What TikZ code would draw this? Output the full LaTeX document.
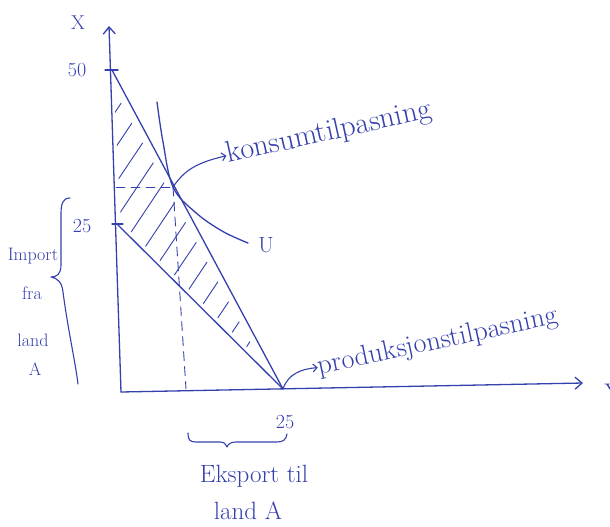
\documentclass[tikz,border=0pt]{standalone}
\usetikzlibrary{arrows.meta}
\definecolor{ink}{RGB}{52,64,172}
\begin{document}
\begin{tikzpicture}[x=1pt,y=-1pt, line width=1.3pt, line cap=round, line join=round,
  color=ink,
  axis/.style={-{Straight Barb[length=7pt,width=12pt]}},
  lbl/.style={text=ink, inner sep=0pt},
  ptr/.style={-{Straight Barb[length=4pt,width=8pt]}, line width=1.1pt},
  hatch/.style={line width=0.9pt},
  guide/.style={line width=0.9pt, dash pattern=on 9pt off 6pt},
  brace/.style={line width=1.1pt}]
\useasboundingbox (0,0) rectangle (610,527);
% key points
\coordinate (O) at (121,392);
\coordinate (ytop) at (109,26);
\coordinate (xend) at (583,383);
\coordinate (p50) at (112,70);
\coordinate (p25) at (117,224);
\coordinate (P) at (283,389);
\coordinate (C) at (173,187);
\coordinate (Cy) at (116,187);
\coordinate (Cx) at (186,389);
% hatching
\begin{scope}
  \clip (114,90) -- (121,222) -- (260,360) -- cycle;
  \foreach \c in {190,214,...,500} \draw[hatch] (\c-267,400) -- (\c,0);
\end{scope}
% axes
\draw[axis] (O) -- (ytop);
\draw[axis] (O) -- (xend);
\draw (105,70) -- (118,70);
\draw (112,224) -- (123,224);
% lines
\draw (p50) -- (P);
\draw (p25) -- (P);
% guides
\draw[guide] (Cy) -- (C);
\draw[guide] (C) -- (Cx);
% indifference curve
\draw plot[smooth, tension=0.6] coordinates {(157,102) (163,142) (173,187) (195,212) (222,231) (248,243)};
% labels
\node[lbl, font=\fontsize{20}{20}\selectfont] (X) at (78,23) {X};
\node[lbl, font=\fontsize{20}{20}\selectfont] (l50) at (77,70) {50};
\node[lbl, font=\fontsize{20}{20}\selectfont] (l25y) at (82,226) {25};
\node[lbl, font=\fontsize{20}{20}\selectfont] (l25x) at (285,422) {25};
\node[lbl, font=\fontsize{22}{22}\selectfont] (U) at (266,245) {U};
\node[lbl, font=\fontsize{24}{24}\selectfont] (Y) at (613,392) {Y};
\node[lbl, rotate=12.5, font=\fontsize{30}{30}\selectfont] (kons) at (329,133) {konsumtilpasning};
\node[lbl, rotate=12, font=\fontsize{28}{28}\selectfont] (prod) at (438,342) {produksjonstilpasning};
\node[lbl, font=\fontsize{18}{18}\selectfont] (imp1) at (33,256) {Import};
\node[lbl, font=\fontsize{18}{18}\selectfont] (imp2) at (32,293) {fra};
\node[lbl, font=\fontsize{18}{18}\selectfont] (imp3) at (33,340) {land};
\node[lbl, font=\fontsize{18}{18}\selectfont] (imp4) at (35,369) {A};
\node[lbl, font=\fontsize{25}{25}\selectfont] (eks1) at (254,476) {Eksport til};
\node[lbl, font=\fontsize{25}{25}\selectfont] (eks2) at (248,511) {land A};
% pointer arrows
\draw[ptr] (C) .. controls (184,171) and (195,163) .. (kons.west);
\draw[ptr] (P) .. controls (288,374) and (301,369) .. (prod.west);
% braces
\draw[brace] (70,198) .. controls (62,198) and (61,205) .. (61,215) -- (61,265)
  .. controls (61,274) and (57,277) .. (51,277)
  .. controls (57,278) and (62,282) .. (63,292)
  .. controls (68,330) and (75,360) .. (78,384);
\draw[brace] (188,433) .. controls (188,440) and (190,442) .. (196,442) -- (220,442)
  .. controls (224,442) and (226,444) .. (227,447)
  .. controls (228,444) and (231,442) .. (236,442) -- (277,442)
  .. controls (283,442) and (286,440) .. (287,434);
\end{tikzpicture}
\end{document}
